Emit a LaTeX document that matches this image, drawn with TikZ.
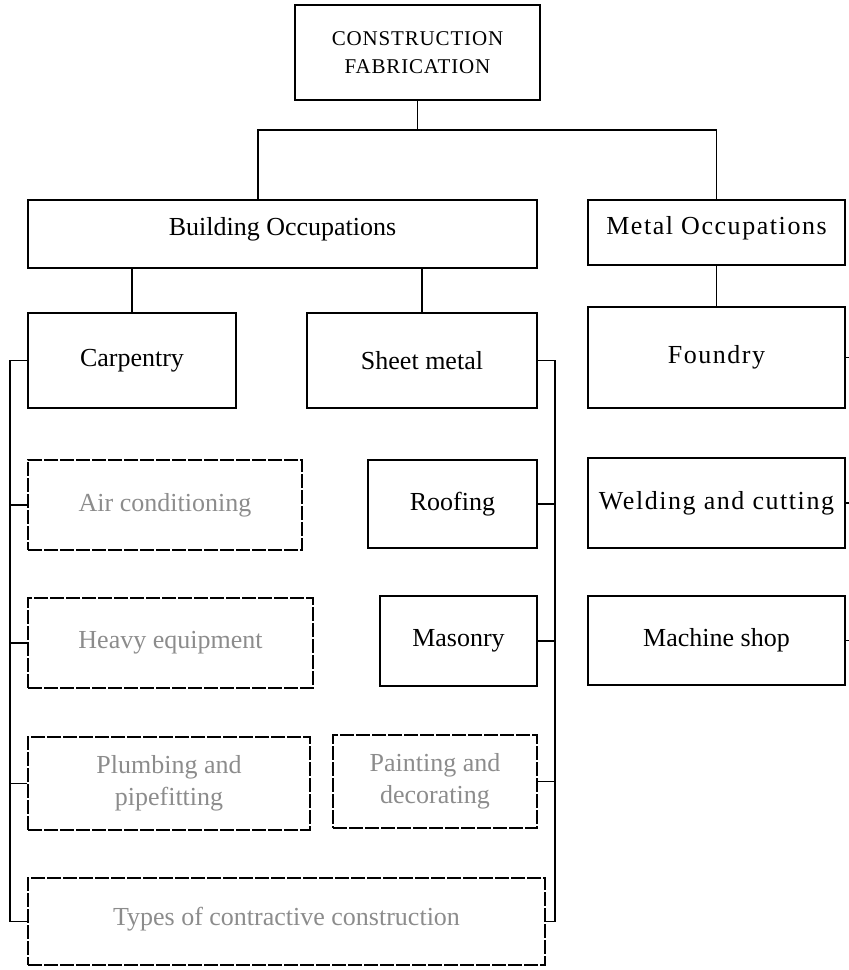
\documentclass[tikz,border=0pt]{standalone}
\usepackage{fontspec}
\setmainfont{Liberation Serif}
\usepackage{tikz}
\usetikzlibrary{calc}

\begin{document}
\begin{tikzpicture}[x=1pt, y=-1pt, line width=1.3pt,
    box/.style={draw, rectangle, inner sep=0pt, align=center,
                font=\fontsize{26}{32}\selectfont},
    widebox/.style={box, font=\fontsize{26}{32}\selectfont\addfontfeature{LetterSpace=6}},
    fadedbox/.style={box, dash pattern=on 14pt off 2pt, text=black!45},
    conn/.style={line width=1.3pt}]
  \useasboundingbox (0,0) rectangle (849,970);
  \node[box, minimum width=245, minimum height=95,
        font=\fontsize{21}{28}\selectfont\addfontfeature{LetterSpace=4}]
        (top) at (417.5,52.5) {CONSTRUCTION\\FABRICATION};
  \node[box, minimum width=509, minimum height=68, text depth=16pt] (build) at (282.5,234) {Building Occupations};
  \node[widebox, minimum width=257, minimum height=65, text depth=14pt] (metal) at (716.5,232.5) {Metal Occupations};
  \node[box, minimum width=208, minimum height=95] (carp) at (132,360.5) {Carpentry};
  \node[box, minimum width=230, minimum height=95] (sheet) at (422,360.5) {Sheet metal};
  \node[widebox, minimum width=257, minimum height=101] (foundry) at (716.5,357.5) {Foundry};
  \node[widebox, minimum width=257, minimum height=90] (weld) at (716.5,503) {Welding and cutting};
  \node[box, minimum width=257, minimum height=89] (mach) at (716.5,640.5) {Machine shop};
  \node[fadedbox, minimum width=274, minimum height=90] (aircond) at (165,505) {Air conditioning};
  \node[box, minimum width=169, minimum height=88] (roof) at (452.5,504) {Roofing};
  \node[fadedbox, minimum width=285, minimum height=90] (heavy) at (170.5,643) {Heavy equipment};
  \node[box, minimum width=157, minimum height=90] (mason) at (458.5,641) {Masonry};
  \node[fadedbox, minimum width=282, minimum height=93] (plumb) at (169,783.5) {Plumbing and\\pipefitting};
  \node[fadedbox, minimum width=204, minimum height=93] (paint) at (435,781.5) {Painting and\\decorating};
  \node[fadedbox, minimum width=517, minimum height=87, text depth=10pt] (other) at (286.5,921.5) {Types of contractive construction};

  \coordinate (jl) at (258,130);
  \coordinate (jr) at (716.5,130);
  \coordinate (lb) at (10,0);
  \coordinate (rb) at (555,0);
  \coordinate (edge) at (849,0);

  \draw[conn] (top.south) -- (top.south |- jl);
  \draw[conn] (build.north -| jl) -- (jl) -- (jr) -- (metal.north);
  \draw[conn] (build.south -| carp.north) -- (carp.north);
  \draw[conn] (build.south -| sheet.north) -- (sheet.north);
  \draw[conn] (metal.south) -- (foundry.north);
  \draw[conn] (carp.west) -- (carp.west -| lb) -- (other.west -| lb) -- (other.west);
  \draw[conn] (sheet.east) -- (sheet.east -| rb) -- (other.east -| rb) -- (other.east);
  \foreach \n in {aircond,heavy,plumb}
    \draw[conn] (\n.west) -- (\n.west -| lb);
  \foreach \n in {roof,mason,paint}
    \draw[conn] (\n.east) -- (\n.east -| rb);
  \foreach \n in {foundry,weld,mach}
    \draw[conn] (\n.east) -- (\n.east -| edge);
\end{tikzpicture}
\end{document}
